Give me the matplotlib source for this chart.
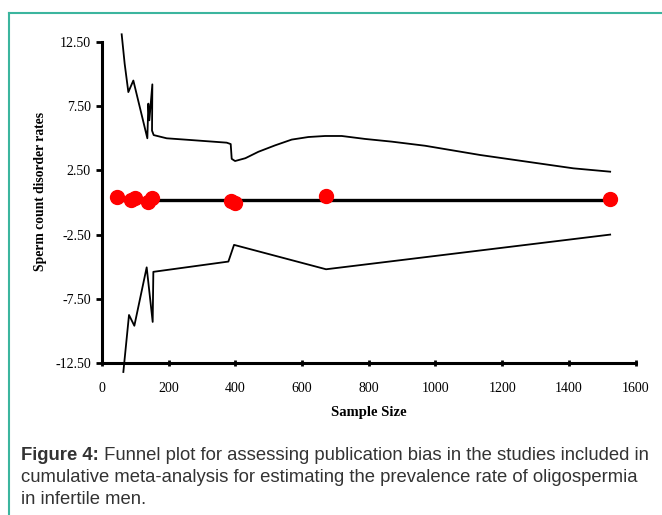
import matplotlib
matplotlib.use("Agg")
import matplotlib.pyplot as plt
from matplotlib.lines import Line2D

# Datos (tamano muestral vs tasa)
n_estudios = [44, 87, 99, 138, 150, 386, 399, 672, 1524]
tasa_estudios = [0.40, 0.20, 0.33, 0.06, 0.33, 0.14, 0.00, 0.50, 0.27]

n_pooled = [44, 1524]
tasa_pooled = [0.2, 0.2]

n_superior = [59, 68, 79, 94, 136, 139, 142, 151, 150, 155, 194, 264, 374, 386, 389,
              399, 430, 469, 519, 569, 619, 669, 719, 789, 869, 969, 1134, 1414, 1524]
lim_superior = [13.1, 10.8, 8.6, 9.5, 5.0, 7.7, 6.4, 9.2, 5.6, 5.25, 5.0, 4.87, 4.66, 4.55, 3.4,
                3.23, 3.45, 3.95, 4.45, 4.9, 5.1, 5.18, 5.18, 4.95, 4.74, 4.42, 3.7, 2.66, 2.4]

n_inferior = [64, 81, 97, 134, 152, 154, 379, 396, 672, 1524]
lim_inferior = [-13.2, -8.76, -9.6, -5.05, -9.3, -5.4, -4.6, -3.3, -5.2, -2.5]

yticks = [12.5, 7.5, 2.5, -2.5, -7.5, -12.5]
xticks = [0, 200, 400, 600, 800, 1000, 1200, 1400, 1600]

caption_bold = "Figure 4:"
caption_l1 = " Funnel plot for assessing publication bias in the studies included in"
caption_l2 = "cumulative meta-analysis for estimating the prevalence rate of oligospermia"
caption_l3 = "in infertile men."

W, H = 662, 515
fig = plt.figure(figsize=(W / 100, H / 100), dpi=100)
fig.patch.set_facecolor("white")

# Ejes en coordenadas de pixel
left, right, top, bottom = 102, 635.5, 42, 363
ax = fig.add_axes([left / W, 1 - bottom / H, (right - left) / W, (bottom - top) / H])

ax.plot(n_superior, lim_superior, color="black", lw=1.3, clip_on=False, zorder=2)
ax.plot(n_inferior, lim_inferior, color="black", lw=1.3, clip_on=False, zorder=2)
ax.plot(n_pooled, tasa_pooled, color="black", lw=2.4, zorder=3)
ax.plot(n_estudios, tasa_estudios, "o", color="#ff0000", ms=10, mec="#ff0000",
        zorder=4, clip_on=False)

ax.set_xlim(0, 1600)
ax.set_ylim(-12.5, 12.5)
ax.set_xticks(xticks)
ax.set_yticks(yticks)
ax.set_yticklabels(["%.2f" % v for v in yticks])

for s in ["top", "right"]:
    ax.spines[s].set_visible(False)
for s in ["left", "bottom"]:
    ax.spines[s].set_linewidth(2.2)

serif = "Liberation Serif"
ax.tick_params(axis="y", direction="out", length=4, width=2, pad=4, labelsize=10)
ax.tick_params(axis="x", direction="inout", length=5, width=2, pad=11, labelsize=10)
for lab in ax.get_xticklabels() + ax.get_yticklabels():
    lab.set_family(serif)

ax.set_xlabel("Sample Size", family=serif, fontweight="bold", fontsize=10.5, labelpad=8)
ax.set_ylabel("Sperm count disorder rates", family=serif, fontweight="bold", fontsize=9.8)
ax.yaxis.set_label_coords(-(left - 47) / (right - left), 0.535)

# Borde verde
teal = "#3bb59e"
fig.add_artist(Line2D([9 / W, 9 / W], [0, 1 - 13 / H], transform=fig.transFigure, color=teal, lw=1.5))
fig.add_artist(Line2D([9 / W, 1], [1 - 13 / H, 1 - 13 / H], transform=fig.transFigure, color=teal, lw=1.5))

# Pie de figura
gris = "#333333"
sans = "Liberation Sans"
fs = 13.3
t0 = fig.text(21 / W, 1 - 456 / H, caption_bold, family=sans, fontweight="bold",
              fontsize=fs, color=gris, va="center")
fig.canvas.draw()
bb = t0.get_window_extent()
fig.text(bb.x1 / W, 1 - 456 / H, caption_l1, family=sans, fontsize=fs, color=gris, va="center")
fig.text(21 / W, 1 - 478 / H, caption_l2, family=sans, fontsize=fs, color=gris, va="center")
fig.text(21 / W, 1 - 499 / H, caption_l3, family=sans, fontsize=fs, color=gris, va="center")

fig.savefig("out.png", dpi=100)
